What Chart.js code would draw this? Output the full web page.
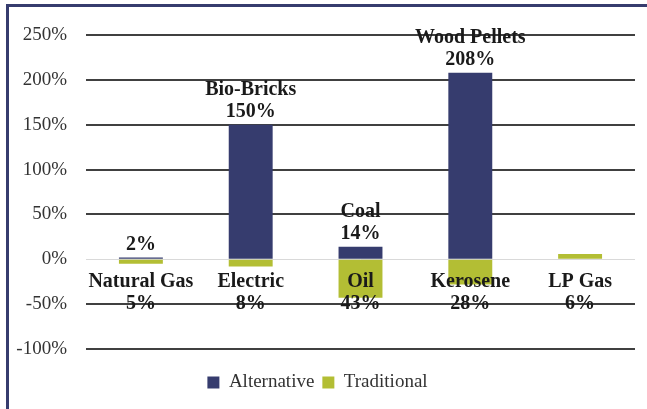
<!DOCTYPE html>
<html>
<head>
<meta charset="utf-8">
<script src="https://cdn.jsdelivr.net/npm/chart.js@4"></script>
<style>
  html, body { margin: 0; padding: 0; background: #fff; }
  #wrap { position: relative; width: 647px; height: 409px; }
  #frame {
    position: absolute; left: 6px; top: 4px; width: 700px; height: 500px;
    border-top: 3px solid #363c6e; border-left: 3px solid #363c6e;
    pointer-events: none;
  }
</style>
</head>
<body>
<div id="wrap">
  <canvas id="chart" width="647" height="409"></canvas>
  <div id="frame"></div>
</div>
<script>
// categories = traditional fuel; alternatives sit on top
const categories = ['Natural Gas', 'Electric', 'Oil', 'Kerosene', 'LP Gas'];
const altNames = ['', 'Bio-Bricks', 'Coal', 'Wood Pellets', null];
const altValues = [2, 150, 14, 208, null];
const tradValues = [-5, -8, -43, -28, 6];
const yTicks = { min: -100, max: 250, step: 50 };

const NAVY = '#363c6e';
const GREEN = '#b3be34';
const SERIF = '"Liberation Serif", "Times New Roman", serif';

// category label + traditional share (two lines under the zero line)
const xLabels = categories.map((c, i) => [c, Math.abs(tradValues[i]) + '%']);

// labels above the alternative bars
const barLabels = {
    id: 'barLabels',
    afterDatasetsDraw(chart) {
        const ctx = chart.ctx;
        const meta = chart.getDatasetMeta(0);
        ctx.save();
        ctx.font = 'bold 20px ' + SERIF;
        ctx.fillStyle = '#1a1a1a';
        ctx.textAlign = 'center';
        ctx.textBaseline = 'middle';
        meta.data.forEach((bar, i) => {
            const v = altValues[i];
            if (v == null) return;
            const lines = altNames[i] ? [altNames[i], v + '%'] : [v + '%'];
            lines.reverse().forEach((t, k) => ctx.fillText(t, bar.x, bar.y - 13 - k * 22));
        });
        ctx.restore();
    }
};

new Chart(document.getElementById('chart'), {
    type: 'bar',
    data: {
        labels: xLabels,
        datasets: [
            {
                label: 'Alternative',
                data: altValues,
                backgroundColor: NAVY,
                barPercentage: 0.4,
                categoryPercentage: 1
            },
            {
                label: 'Traditional',
                data: tradValues,
                backgroundColor: GREEN,
                barPercentage: 0.4,
                categoryPercentage: 1
            }
        ]
    },
    options: {
        responsive: false,
        animation: false,
        layout: { padding: { top: 35, right: 12, bottom: 7, left: 0 } },
        scales: {
            x: {
                stacked: true,
                position: { y: 0 },
                grid: { display: false },
                border: { display: false },
                ticks: {
                    z: 1,
                    padding: 4,
                    maxRotation: 0,
                    autoSkip: false,
                    color: '#1a1a1a',
                    font: { family: SERIF, size: 20, weight: 'bold', lineHeight: 1.1 }
                }
            },
            xb: {
                type: 'category',
                position: 'bottom',
                grid: { display: false },
                border: { display: false },
                ticks: { display: false },
                afterFit: s => { s.height = 16; }
            },
            y: {
                stacked: true,
                min: yTicks.min,
                max: yTicks.max,
                afterFit: s => { s.width = 86; },
                border: { display: false },
                grid: {
                    drawTicks: false,
                    color: c => c.tick && c.tick.value === 0 ? '#d9d9d9' : '#404040',
                    lineWidth: c => c.tick && c.tick.value === 0 ? 1 : 2
                },
                ticks: {
                    stepSize: yTicks.step,
                    padding: 19,
                    color: '#333',
                    font: { family: SERIF, size: 19 },
                    callback: v => v + '%'
                }
            }
        },
        plugins: {
            legend: {
                position: 'bottom',
                labels: {
                    boxWidth: 12,
                    boxHeight: 12,
                    padding: 8,
                    color: '#333',
                    font: { family: SERIF, size: 19 }
                }
            },
            tooltip: { enabled: false }
        }
    },
    plugins: [barLabels]
});
</script>
</body>
</html>
